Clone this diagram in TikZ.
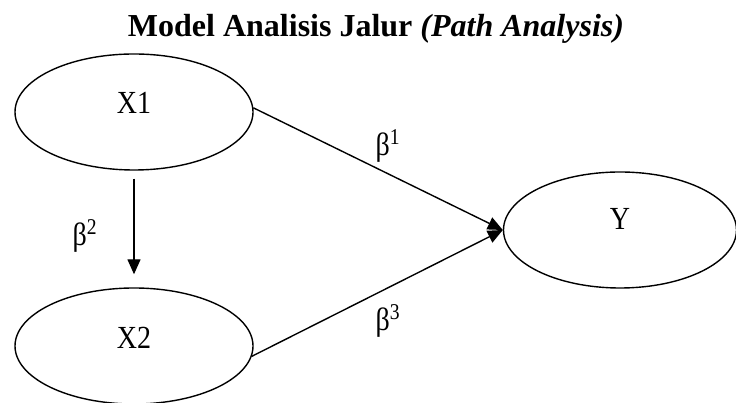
\documentclass[tikz,border=0pt]{standalone}
\usepackage{fontspec}
\setmainfont{Liberation Serif}
\usetikzlibrary{arrows.meta,shapes.geometric}
\newcommand{\tallt}[1]{\scalebox{1}[1.15]{#1}}
\begin{document}
\begin{tikzpicture}[x=1pt,y=1pt,
  var/.style={draw,line width=1.4pt,ellipse,inner sep=0pt,minimum width=238pt,minimum height=116pt},
  lbl/.style={font=\fontsize{28}{30}\selectfont},
  conn/.style={line width=1.4pt,-{Triangle[length=15pt,width=13pt]}}]
\useasboundingbox (0,0) rectangle (736,403);
\node[anchor=base,font=\fontsize{32}{34}\selectfont\bfseries] (title) at (376,366) {Model Analisis Jalur \textit{(Path Analysis)}};
\node[var,label={[lbl,yshift=9pt]center:\tallt{X1}}] (X1) at (134,291) {};
\node[var,label={[lbl,yshift=8pt]center:\tallt{X2}}] (X2) at (134,57) {};
\node[var,minimum width=233pt,label={[lbl,yshift=11pt]center:\tallt{Y}}] (Y) at (620,173) {};
\draw[conn] (X1.2) -- (Y.west);
\draw[conn] (X2.-5) -- (Y.west);
\draw[conn,shorten <=8pt,shorten >=13pt] (X1.south) -- (X2.north);
\node[lbl] (b1) at (388,257) {\tallt{β\textsuperscript{1}}};
\node[lbl] (b2) at (85,167) {\tallt{β\textsuperscript{2}}};
\node[lbl] (b3) at (388,82) {\tallt{β\textsuperscript{3}}};
\end{tikzpicture}
\end{document}
